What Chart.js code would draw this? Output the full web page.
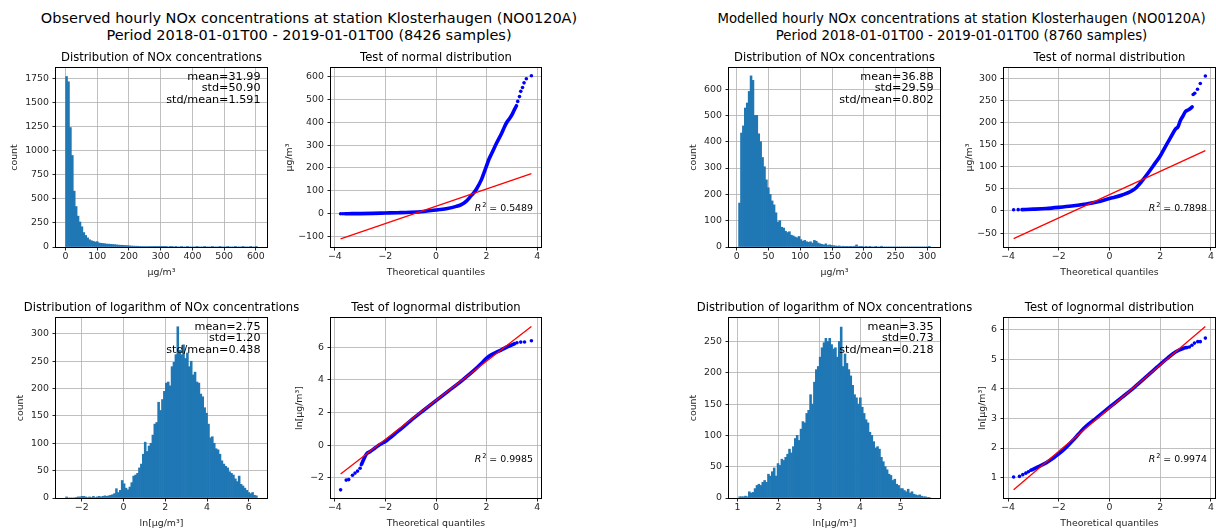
<!DOCTYPE html>
<html>
<head>
<meta charset="utf-8">
<script src="https://cdn.jsdelivr.net/npm/chart.js@4.4.0/dist/chart.umd.min.js"></script>
<style>
  html, body { margin: 0; padding: 0; background: #fff; overflow: hidden; width: 1216px; height: 528px; }
  .sup { position: absolute; width: 640px; font-family: "DejaVu Sans", sans-serif; font-size: 14.5px;
         line-height: 17px; text-align: center; color: #000; white-space: nowrap; }
</style>
</head>
<body>
<div class="sup" style="left:-11px; top:9.5px;">Observed hourly NOx concentrations at station Klosterhaugen (NO0120A)<br>Period 2018-01-01T00 - 2019-01-01T00 (8426 samples)</div>
<div class="sup" style="left:641.5px; top:9.5px; font-size:13.3px;">Modelled hourly NOx concentrations at station Klosterhaugen (NO0120A)<br>Period 2018-01-01T00 - 2019-01-01T00 (8760 samples)</div>
<script>
// ---- observed: histogram of concentrations (100 bins) ----
const obsHistRange = [0.063, 605];
const obsHistCounts = [
  1770, 1715, 1240, 950, 580, 420, 320, 260, 210, 150,
  120, 95, 75, 65, 58, 52, 55, 42, 38, 36,
  34, 30, 30, 28, 26, 25, 22, 20, 18, 18,
  16, 15, 14, 12, 10, 9, 8, 8, 7, 6,
  6, 5, 5, 6, 4, 4, 3, 4, 3, 2,
  1, 1, 1, 0, 1, 1, 0, 1, 0, 0,
  1, 0, 0, 1, 0, 0, 0, 0, 1, 0,
  0, 0, 1, 0, 0, 0, 1, 0, 0, 0,
  1, 0, 0, 0, 1, 0, 0, 0, 1, 0,
  0, 0, 1, 0, 0, 0, 1, 0, 0, 1
];
const obsHistStats = ['mean=31.99', 'std=50.90', 'std/mean=1.591'];

// ---- observed: histogram of ln(concentrations) ----
const obsLogRange = [-2.77, 6.41];
const obsLogCounts = [
  2, 0, 0, 0, 0, 1, 2, 2, 3,
  3, 2, 1, 2, 1, 3, 1, 2, 3, 2,
  3, 4, 3, 4, 5,
  6, 8, 17, 10, 14, 32, 26, 18, 15, 20,
  28, 40, 42, 45, 55, 62, 80, 102, 85, 95,
  100, 115, 135, 138, 175, 160, 180, 195, 210, 212,
  205, 240, 248, 262, 313, 270, 262, 280, 255, 265,
  240, 250, 225, 230, 212, 210, 190, 185, 165, 155,
  135, 110, 112, 100, 90, 88, 80, 68, 62, 58,
  55, 48, 45, 42, 35, 30, 40, 25, 22, 18, 14, 10, 8, 10, 5, 4
];
const obsLogStats = ['mean=2.75', 'std=1.20', 'std/mean=0.438'];

// ---- observed: normal probability plot ----
const obsNormLineX = [-3.6, -3.3, -3.0, -2.5, -2.0, -1.5, -1.0, -0.5, 0, 0.4, 0.8, 1.0, 1.2, 1.4, 1.5, 1.6, 1.8, 1.9, 2.0, 2.1, 2.2, 2.4, 2.6, 2.7, 2.8, 2.9, 3.0, 3.1, 3.18];
const obsNormLineY = [0.1, 0.3, 0.6, 1.5, 3, 4.5, 6.5, 10, 16, 22, 32, 40, 55, 80, 92, 108, 150, 180, 210, 240, 263, 310, 353, 378, 400, 415, 432, 455, 472];
const obsNormDotX = [-3.77, -3.68, 3.23, 3.3, 3.35, 3.42, 3.48, 3.57, 3.77];
const obsNormDotY = [0.1, 0.1, 491, 512, 535, 552, 572, 590, 603];
const obsNormFitX = [-3.77, 3.77];
const obsNormFitY = [-110, 175];
const obsNormR2 = '0.5489';

// ---- observed: lognormal probability plot ----
const obsLnLineX = [-2.95, -2.85, -2.75, -2.6, -2.4, -2.2, -2.0, -1.5, -1.0, -0.5, 0, 0.5, 1.0, 1.5, 1.8, 2.0, 2.2, 2.5, 2.8, 3.0, 3.1];
const obsLnLineY = [-1.2, -0.85, -0.55, -0.4, -0.17, 0.05, 0.22, 0.85, 1.5, 2.12, 2.73, 3.33, 3.93, 4.58, 5.02, 5.33, 5.55, 5.78, 6.02, 6.15, 6.22];
const obsLnDotX = [-3.77, -3.55, -3.45, -3.3, -3.2, -3.1, -3.0, 3.2, 3.35, 3.5, 3.77];
const obsLnDotY = [-2.75, -2.15, -2.12, -1.85, -1.72, -1.6, -1.42, 6.28, 6.32, 6.33, 6.4];
const obsLnFitX = [-3.77, 3.77];
const obsLnFitY = [-1.77, 7.28];
const obsLnR2 = '0.9985';

// ---- modelled: histogram of concentrations ----
const modHistRange = [2.8, 305];
const modHistCounts = [
  167, 433, 460, 528, 547, 591, 650, 633, 500, 500,
  430, 400, 340, 305, 255, 225, 200, 175, 160, 130,
  95, 100, 75, 72, 60, 55, 58, 45, 42, 38,
  35, 40, 28, 22, 25, 20, 18, 20, 15, 25,
  22, 15, 12, 10, 8, 12, 6, 8, 6, 5,
  4, 3, 4, 2, 3, 2, 1, 2, 1, 2,
  3, 8, 2, 1, 1, 0, 1, 0, 1, 0,
  0, 1, 0, 0, 3, 0, 0, 0, 0, 0,
  0, 0, 0, 0, 0, 0, 0, 0, 0, 0,
  0, 0, 0, 0, 0, 0, 0, 0, 0, 1
];
const modHistStats = ['mean=36.88', 'std=29.59', 'std/mean=0.802'];

// ---- modelled: histogram of ln(concentrations) ----
const modLogRange = [1.03, 5.72];
const modLogCounts = [
  2, 2, 2, 3, 2, 10, 8, 9, 15, 20,
  22, 20, 25, 28, 25, 38, 35, 42, 48, 35,
  55, 52, 62, 60, 65, 70, 78, 72, 82, 95,
  100, 92, 110, 122, 120, 135,
  140, 165, 150, 185, 205, 210, 225, 240, 248, 255,
  250, 255, 245, 238, 240, 225, 250, 273, 210, 230,
  215, 205, 195, 180, 165, 160, 150, 160, 145, 135,
  125, 120, 105, 100, 90, 80, 82, 78, 65, 58,
  50, 45, 38, 36, 28, 30, 22, 20, 15, 15, 12, 10, 14, 8, 10, 6, 5, 4, 5, 3, 2, 2, 1, 1
];
const modLogStats = ['mean=3.35', 'std=0.73', 'std/mean=0.218'];

// ---- modelled: normal probability plot ----
const modNormLineX = [-3.45, -3.0, -2.5, -2.0, -1.5, -1.0, -0.5, 0, 0.5, 1.0, 1.2, 1.3, 1.5, 1.8, 2.0, 2.2, 2.4, 2.6, 2.7, 2.8, 2.9, 3.0, 3.1, 3.2, 3.26];
const modNormLineY = [3.0, 4.0, 5.5, 8, 11, 15, 20, 28, 36, 50, 62, 69, 84, 108, 124, 145, 165, 185, 190, 205, 215, 225, 228, 232, 235];
const modNormDotX = [-3.78, -3.6, 3.3, 3.36, 3.47, 3.58, 3.78];
const modNormDotY = [2.8, 2.9, 263, 266, 275, 288, 305];
const modNormFitX = [-3.78, 3.78];
const modNormFitY = [-62.5, 136.3];
const modNormR2 = '0.7898';

// ---- modelled: lognormal probability plot ----
const modLnLineX = [-3.1, -2.8, -2.5, -2.2, -2.0, -1.7, -1.4, -1.0, -0.5, 0, 0.5, 1.0, 1.5, 2.0, 2.3, 2.6, 2.9, 3.05];
const modLnLineY = [1.25, 1.37, 1.5, 1.67, 1.8, 2.03, 2.3, 2.68, 3.03, 3.38, 3.72, 4.07, 4.45, 4.83, 5.05, 5.25, 5.37, 5.4];
const modLnDotX = [-3.78, -3.55, -3.42, -3.3, -3.2, 3.15, 3.25, 3.35, 3.48, 3.58, 3.78];
const modLnDotY = [1.02, 1.04, 1.1, 1.15, 1.2, 5.42, 5.48, 5.55, 5.6, 5.6, 5.72];
const modLnFitX = [-3.78, 3.78];
const modLnFitY = [0.59, 6.11];
const modLnR2 = '0.9974';

// ---- axis ticks ----
const qTicks = [-4, -2, 0, 2, 4];

const FONT = '"DejaVu Sans", sans-serif';
const BAR_BLUE = '#1f77b4';
const DOT_BLUE = '#0000ff';
const FIT_RED = '#ff0000';
const INK = '#262626';
const TITLE_H = 21, X_H = 31, PAD_R = 40;

function binCentres(range, n) {
  const w = (range[1] - range[0]) / n;
  return Array.from({ length: n }, (_, i) => range[0] + w * (i + 0.5));
}
function pts(xs, ys) { return xs.map((x, i) => ({ x, y: ys[i] })); }
function tickLabel(v) { return v < 0 ? '\u2212' + Math.abs(v) : String(v); }

function scale(horizontal, lim, ticks, title, size, onTop) {
  return {
    type: 'linear', min: lim[0], max: lim[1], offset: false, z: onTop ? 1 : 0,
    afterBuildTicks: s => { s.ticks = ticks.map(v => ({ value: v })); },
    afterFit: s => { if (horizontal) s.height = size; else s.width = size; },
    ticks: {
      autoSkip: false, maxRotation: 0, color: INK, padding: horizontal ? 0.5 : 3.5,
      font: { family: FONT, size: 9.4, lineHeight: '11px' }, callback: tickLabel
    },
    grid: {
      offset: false, color: 'rgba(176,176,176,0.8)', lineWidth: 1,
      drawTicks: true, tickLength: 3.5, tickColor: INK, tickWidth: 1
    },
    border: { display: false },
    title: { display: true, text: title, color: INK, padding: 0, font: { family: FONT, size: 9.4, lineHeight: '11px' } }
  };
}

// frame, panel title, stats and R² text
function decor(title, stats, r2) {
  return {
    id: 'decor',
    afterDraw(chart) {
      const { ctx, chartArea: a } = chart;
      ctx.save();
      ctx.fillStyle = '#000';
      ctx.font = `11.6px ${FONT}`;
      ctx.textAlign = 'center';
      ctx.textBaseline = 'middle';
      ctx.fillText(title, (a.left + a.right) / 2, a.top - 10);
      if (stats) {
        ctx.font = `11.2px ${FONT}`;
        ctx.textAlign = 'right';
        stats.forEach((t, k) => ctx.fillText(t, a.right - 6.5, a.top + 9 + k * 11.3));
      }
      if (r2) {
        const base = a.bottom - 0.2 * (a.bottom - a.top);
        const rest = ' = ' + r2;
        ctx.textAlign = 'left';
        ctx.textBaseline = 'alphabetic';
        ctx.font = `9.4px ${FONT}`;
        const wRest = ctx.measureText(rest).width;
        ctx.font = `6.6px ${FONT}`;
        const wSup = ctx.measureText('2').width;
        ctx.font = `oblique 9.4px ${FONT}`;
        const wR = ctx.measureText('R').width;
        let x = a.right - 8 - (wR + 0.8 + wSup + wRest);
        ctx.fillText('R', x, base);
        x += wR + 0.8;
        ctx.font = `6.6px ${FONT}`;
        ctx.fillText('2', x, base - 4);
        x += wSup;
        ctx.font = `9.4px ${FONT}`;
        ctx.fillText(rest, x, base);
      }
      ctx.strokeStyle = '#000';
      ctx.lineWidth = 1;
      ctx.strokeRect(a.left - 0.5, a.top - 0.5, a.right - a.left + 1, a.bottom - a.top + 1);
      ctx.restore();
    }
  };
}

function panel(box, type, datasets, xs, ys, plugin) {
  const yW = Math.round(box.yTitle + 5.5);
  const w = yW + box.w + PAD_R, h = TITLE_H + box.h + X_H;
  const c = document.createElement('canvas');
  c.width = w; c.height = h;
  c.style.cssText = `position:absolute;left:${box.l - yW}px;top:${box.t - TITLE_H}px;width:${w}px;height:${h}px;`;
  document.body.appendChild(c);
  const onTop = type === 'bar';
  return new Chart(c, {
    type,
    data: { datasets },
    options: {
      responsive: false, animation: false, devicePixelRatio: 1,
      layout: { padding: { left: 0, right: PAD_R, top: TITLE_H, bottom: 0 } },
      plugins: { legend: { display: false }, tooltip: { enabled: false } },
      scales: {
        x: scale(true, xs.lim, xs.ticks, xs.title, X_H, onTop),
        y: scale(false, ys.lim, ys.ticks, ys.title, yW, onTop)
      }
    },
    plugins: [plugin]
  });
}

function histSet(range, counts) {
  return [{
    data: pts(binCentres(range, counts.length), counts),
    backgroundColor: BAR_BLUE, borderWidth: 0, barPercentage: 1, categoryPercentage: 1
  }];
}
function qqSets(fitX, fitY, lineX, lineY, dotX, dotY) {
  return [
    { data: pts(fitX, fitY), showLine: true, borderColor: FIT_RED, borderWidth: 1.3, pointRadius: 0 },
    { data: pts(lineX, lineY), showLine: true, borderColor: DOT_BLUE, borderWidth: 3.6, pointRadius: 0,
      cubicInterpolationMode: 'monotone', borderCapStyle: 'round', borderJoinStyle: 'round' },
    { data: pts(dotX, dotY), showLine: false, pointRadius: 1.8, backgroundColor: DOT_BLUE, borderWidth: 0 }
  ];
}

const UG = 'µg/m³', LNUG = 'ln[µg/m³]', TQ = 'Theoretical quantiles';

// observed
panel({ l: 56, t: 68, w: 211, h: 179, yTitle: 41 }, 'bar', histSet(obsHistRange, obsHistCounts),
  { lim: [-30.2, 635.2], ticks: [0, 100, 200, 300, 400, 500, 600], title: UG },
  { lim: [0, 1858], ticks: [0, 250, 500, 750, 1000, 1250, 1500, 1750], title: 'count' },
  decor('Distribution of NOx concentrations', obsHistStats, null));

panel({ l: 331, t: 68, w: 210, h: 179, yTitle: 41.5 }, 'scatter',
  qqSets(obsNormFitX, obsNormFitY, obsNormLineX, obsNormLineY, obsNormDotX, obsNormDotY),
  { lim: [-4.15, 4.15], ticks: qTicks, title: TQ },
  { lim: [-145.5, 637], ticks: [-100, 0, 100, 200, 300, 400, 500, 600], title: UG },
  decor('Test of normal distribution', null, obsNormR2));

panel({ l: 56, t: 318, w: 211, h: 180, yTitle: 35 }, 'bar', histSet(obsLogRange, obsLogCounts),
  { lim: [-3.23, 6.87], ticks: [-2, 0, 2, 4, 6], title: LNUG },
  { lim: [0, 329], ticks: [0, 50, 100, 150, 200, 250, 300], title: 'count' },
  decor('Distribution of logarithm of NOx concentrations', obsLogStats, null));

panel({ l: 331, t: 318, w: 210, h: 180, yTitle: 31 }, 'scatter',
  qqSets(obsLnFitX, obsLnFitY, obsLnLineX, obsLnLineY, obsLnDotX, obsLnDotY),
  { lim: [-4.15, 4.15], ticks: qTicks, title: TQ },
  { lim: [-3.25, 7.8], ticks: [-2, 0, 2, 4, 6], title: LNUG },
  decor('Test of lognormal distribution', null, obsLnR2));

// modelled
panel({ l: 729, t: 68, w: 211, h: 179, yTitle: 35 }, 'bar', histSet(modHistRange, modHistCounts),
  { lim: [-12.3, 320.1], ticks: [0, 50, 100, 150, 200, 250, 300], title: UG },
  { lim: [0, 680], ticks: [0, 100, 200, 300, 400, 500, 600], title: 'count' },
  decor('Distribution of NOx concentrations', modHistStats, null));

panel({ l: 1004, t: 68, w: 211, h: 179, yTitle: 34 }, 'scatter',
  qqSets(modNormFitX, modNormFitY, modNormLineX, modNormLineY, modNormDotX, modNormDotY),
  { lim: [-4.16, 4.16], ticks: qTicks, title: TQ },
  { lim: [-81.5, 323], ticks: [-50, 0, 50, 100, 150, 200, 250, 300], title: UG },
  decor('Test of normal distribution', null, modNormR2));

panel({ l: 729, t: 318, w: 211, h: 180, yTitle: 35 }, 'bar', histSet(modLogRange, modLogCounts),
  { lim: [0.79, 5.96], ticks: [1, 2, 3, 4, 5], title: LNUG },
  { lim: [0, 287.5], ticks: [0, 50, 100, 150, 200, 250], title: 'count' },
  decor('Distribution of logarithm of NOx concentrations', modLogStats, null));

panel({ l: 1004, t: 318, w: 211, h: 180, yTitle: 21 }, 'scatter',
  qqSets(modLnFitX, modLnFitY, modLnLineX, modLnLineY, modLnDotX, modLnDotY),
  { lim: [-4.16, 4.16], ticks: qTicks, title: TQ },
  { lim: [0.31, 6.4], ticks: [1, 2, 3, 4, 5, 6], title: LNUG },
  decor('Test of lognormal distribution', null, modLnR2));
</script>
</body>
</html>
